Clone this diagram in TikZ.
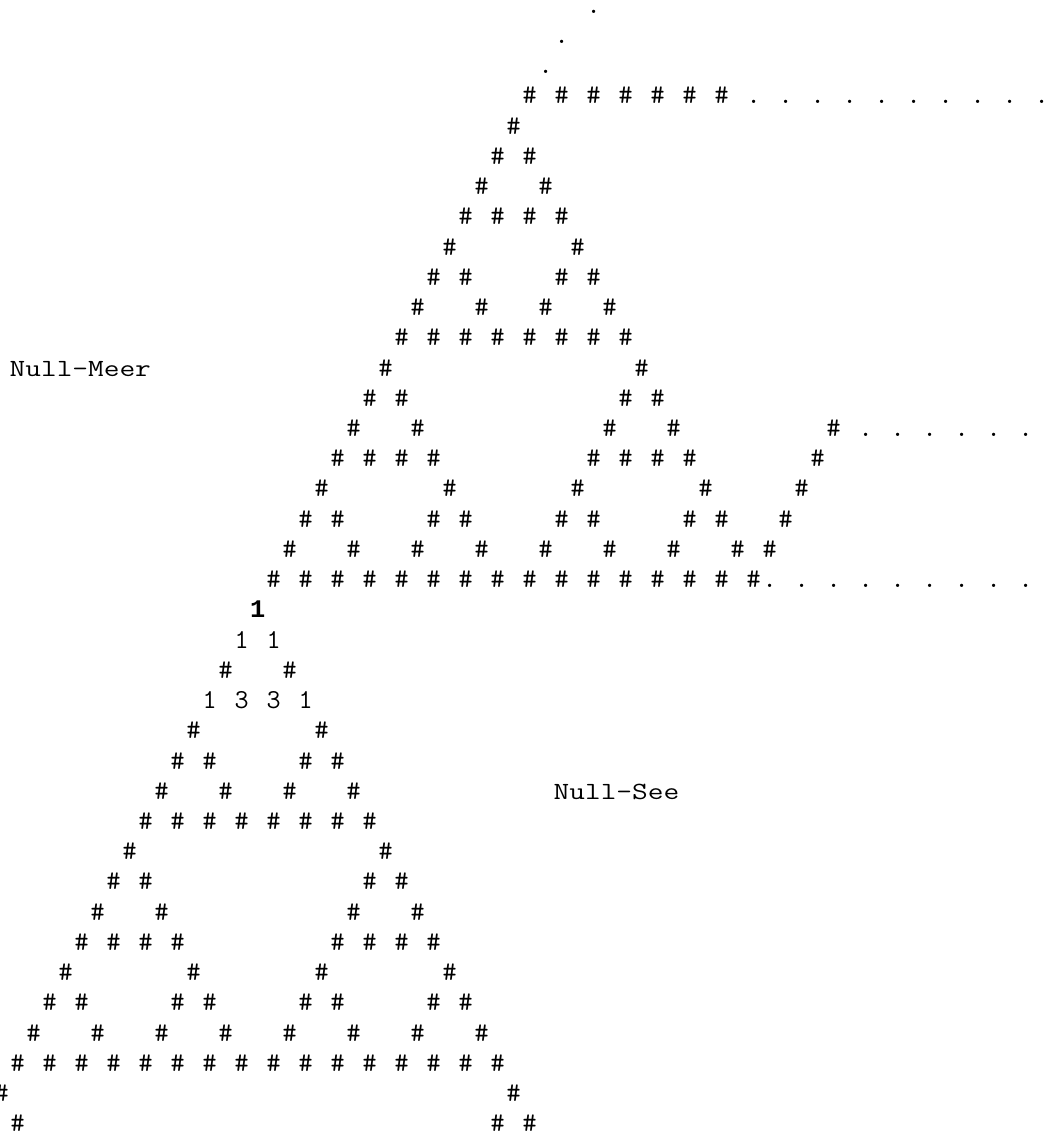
\documentclass[tikz,border=0pt]{standalone}
\usepackage{graphicx}
\usepackage{fontspec}
\newfontfamily\boldmono{Liberation Mono}
\tikzset{
  ch/.style={inner sep=0pt, outer sep=0pt, anchor=base, text=black,
    font=\ttfamily\fontsize{18.5pt}{22pt}\selectfont},
  digit/.style={ch, font=\ttfamily\fontsize{20.5pt}{24pt}\selectfont},
  hash/.style={ch, font=\ttfamily\fontsize{20.5pt}{24pt}\selectfont},
  dot/.style={ch, font=\ttfamily\fontsize{22pt}{24pt}\selectfont},
  chbold/.style={ch, font=\boldmono\bfseries\fontsize{19pt}{22pt}\selectfont},
  lbl/.style={ch, anchor=base west}
}
\newcommand\px[2]{({1.7+16*(#1)},{13.3+30.23*(#2)})}
\newcommand\wide[1]{\scalebox{1.235}[1]{#1}}
\begin{document}
\begin{tikzpicture}[x=0.75pt,y=-0.75pt]
\useasboundingbox (0,0) rectangle (1043,1138);
% upper Sierpinski triangle (apex column 32, line 4)
\foreach \r/\js in {0/{0},1/{0,1},2/{0,2},3/{0,1,2,3},4/{0,4},5/{0,1,4,5},6/{0,2,4,6},
  7/{0,1,2,3,4,5,6,7},8/{0,8},9/{0,1,8,9},10/{0,2,8,10},11/{0,1,2,3,8,9,10,11},
  12/{0,4,8,12},13/{0,1,4,5,8,9,12,13},14/{0,2,4,6,8,10,12,14},
  15/{0,1,2,3,4,5,6,7,8,9,10,11,12,13,14,15}}{
  \foreach \j in \js {
    \pgfmathtruncatemacro\c{32-\r+2*\j}
    \pgfmathtruncatemacro\n{4+\r}
    \node[hash] (u-\n-\c) at \px{\c}{\n} {\#};
  }
}
% lower Sierpinski triangle (apex column 16, line 20)
\foreach \r/\js in {2/{0,2},4/{0,4},5/{0,1,4,5},6/{0,2,4,6},
  7/{0,1,2,3,4,5,6,7},8/{0,8},9/{0,1,8,9},10/{0,2,8,10},11/{0,1,2,3,8,9,10,11},
  12/{0,4,8,12},13/{0,1,4,5,8,9,12,13},14/{0,2,4,6,8,10,12,14},
  15/{0,1,2,3,4,5,6,7,8,9,10,11,12,13,14,15},16/{0,16},17/{0,1,16,17}}{
  \foreach \j in \js {
    \pgfmathtruncatemacro\c{16-\r+2*\j}
    \pgfmathtruncatemacro\n{20+\r}
    \ifnum\c>-1 \node[hash] (l-\n-\c) at \px{\c}{\n} {\#};\fi
  }
}
% Pascal numbers
\node[chbold] (p0) at \px{16}{20} {1};
\node[digit] (p1a) at \px{15}{21} {1};
\node[digit] (p1b) at \px{17}{21} {1};
\node[digit] (p3a) at \px{13}{23} {1};
\node[digit] (p3b) at \px{15}{23} {3};
\node[digit] (p3c) at \px{17}{23} {3};
\node[digit] (p3d) at \px{19}{23} {1};
% top dots
\node[dot] (t0) at \px{37}{0} {.};
\node[dot] (t1) at \px{35}{1} {.};
\node[dot] (t2) at \px{34}{2} {.};
% line 3 row
\foreach \c in {33,35,...,45} { \node[hash] (h3-\c) at \px{\c}{3} {\#}; }
\foreach \c in {47,49,...,65} { \node[dot] (d3-\c) at \px{\c}{3} {.}; }
% right diagonal with dots
\node[hash] (g14) at \px{52}{14} {\#};
\foreach \c in {54,56,...,64} { \node[dot] (d14-\c) at \px{\c}{14} {.}; }
\node[hash] (g15) at \px{51}{15} {\#};
\node[hash] (g16) at \px{50}{16} {\#};
\node[hash] (g17) at \px{49}{17} {\#};
\node[hash] (g18) at \px{48}{18} {\#};
\foreach \c in {48,50,...,64} { \node[dot] (d19-\c) at \px{\c}{19} {.}; }
% labels
\node[lbl] (meer) at ({9.7},{13.3+30.23*12}) {\wide{Null-Meer}};
\node[lbl] (see) at ({553.7},{13.3+30.23*26}) {\wide{Null-See}};
\end{tikzpicture}
\end{document}
